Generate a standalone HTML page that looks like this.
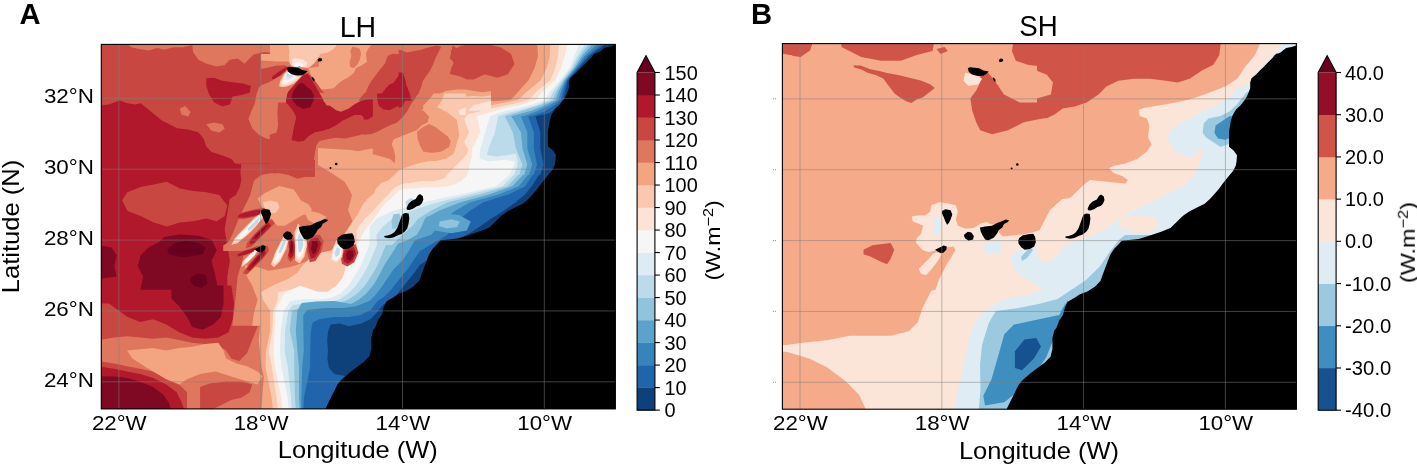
<!DOCTYPE html><html><head><meta charset="utf-8"><style>html,body{margin:0;padding:0;background:#fff;overflow:hidden}svg{display:block}</style></head><body>
<svg width="1417" height="464" viewBox="0 0 1417 464">
<rect width="1417" height="464" fill="#fff"/>
<defs>
<clipPath id="cA"><rect x="101.3" y="44.4" width="514.0" height="364.5"/></clipPath>
<clipPath id="cB"><rect x="782.4" y="43.6" width="514.0" height="365.6"/></clipPath>
<g id="land" fill="#000"><path d="M615.3,45.0 L614.2,45.3 L610.4,46.4 L605.1,47.5 L602.1,49.8 L599.9,51.7 L597.6,52.8 L595.3,53.2 L593.1,55.1 L591.6,57.3 L589.3,59.6 L586.3,62.6 L582.5,66.4 L578.8,70.1 L575.0,74.0 L570.4,77.7 L569.1,81.9 L569.1,87.8 L566.8,93.7 L564.4,98.5 L559.7,104.4 L554.9,109.1 L551.4,115.1 L549.6,121.0 L549.0,125.0 L547.9,131.3 L547.9,146.3 L552.5,150.0 L555.9,154.7 L555.4,161.3 L554.7,165.0 L552.1,170.2 L546.9,176.6 L541.7,183.1 L537.9,188.3 L534.0,192.8 L528.8,198.6 L523.6,203.2 L515.9,207.0 L508.1,210.9 L501.6,215.5 L496.5,220.6 L489.4,227.5 L480.0,231.3 L468.8,235.0 L457.5,238.4 L440.6,240.3 L437.8,243.5 L433.1,248.2 L429.4,253.8 L426.9,260.0 L424.1,267.5 L421.3,275.0 L419.4,280.6 L413.8,286.3 L406.3,291.0 L398.8,293.8 L393.2,297.5 L386.6,301.3 L383.8,306.9 L381.9,314.4 L378.1,320.0 L375.3,327.5 L373.2,330.0 L371.3,337.5 L371.3,348.8 L369.4,356.3 L363.8,361.9 L356.3,367.5 L348.8,373.2 L341.3,379.7 L337.5,384.4 L333.8,391.9 L330.0,399.4 L326.3,406.9 L325.3,410.0 L620.0,412.0 L620.0,40.0Z"/><path d="M286.7,67.8 L288.8,66.7 L293.7,67.2 L298.0,67.8 L302.3,69.9 L307.7,71.0 L305.5,73.2 L302.3,75.3 L296.9,75.6 L291.5,74.2 L287.8,71.5Z"/><path d="M317.6,59.5 L319.5,58.1 L321.8,58.6 L322.2,60.2 L320.5,61.6 L318.2,61.6Z"/><path d="M311.6,77.2 L312.8,76.9 L314.4,79.2 L314.6,81.0 L313.5,81.2 L312.2,79.5Z"/><path d="M260.9,210.5 L264.3,208.8 L269.5,209.7 L271.2,214.0 L269.5,219.1 L267.8,222.6 L266.0,224.3 L264.3,220.9 L262.6,216.6 L260.9,213.1Z"/><path d="M254.0,249.3 L259.1,246.7 L262.6,245.0 L265.7,245.9 L265.2,249.3 L262.6,251.9 L260.0,252.8 L256.6,251.0Z"/><path d="M283.6,233.8 L286.7,231.2 L290.2,232.1 L292.8,235.5 L291.9,239.0 L287.6,240.2 L284.1,238.1 L282.9,235.5Z"/><path d="M298.8,226.9 L304.0,226.0 L310.9,225.2 L316.0,222.6 L320.3,220.9 L324.7,219.1 L328.1,220.0 L326.4,221.7 L322.9,223.4 L321.2,226.9 L317.8,229.5 L316.0,232.9 L312.6,237.2 L307.4,239.8 L304.0,239.0 L301.4,234.7 L299.7,231.2Z"/><path d="M338.4,237.2 L341.9,234.7 L347.1,233.8 L352.2,233.3 L354.0,236.4 L354.8,241.6 L353.1,245.9 L348.8,248.4 L343.6,249.3 L340.2,246.7 L337.6,243.3 L337.1,239.8Z"/><path d="M406.5,208.0 L408.6,203.8 L411.5,201.0 L415.7,198.9 L417.8,195.4 L419.9,194.0 L422.7,196.1 L423.4,199.6 L422.0,203.1 L419.9,205.2 L416.4,206.6 L412.9,208.7 L409.3,210.1 L407.0,209.7Z"/><path d="M402.3,214.3 L405.1,212.9 L408.6,213.6 L409.3,217.9 L408.6,223.5 L407.2,228.4 L405.1,231.2 L401.6,234.0 L397.4,235.4 L393.2,237.5 L389.0,238.2 L384.8,237.5 L384.1,236.1 L387.6,235.4 L391.8,234.0 L394.6,231.9 L397.4,227.7 L399.5,222.1 L400.9,217.9Z"/><circle cx="336.2" cy="164" r="1.3"/><circle cx="330.5" cy="168" r="1.0"/></g>
<g id="grid" stroke="#808080" stroke-opacity="0.5" stroke-width="1"><line x1="118.9" y1="40" x2="118.9" y2="415"/><line x1="260.7" y1="40" x2="260.7" y2="415"/><line x1="402.5" y1="40" x2="402.5" y2="415"/><line x1="544.3" y1="40" x2="544.3" y2="415"/><line x1="95" y1="98.35" x2="620" y2="98.35"/><line x1="95" y1="169.2" x2="620" y2="169.2"/><line x1="95" y1="240.1" x2="620" y2="240.1"/><line x1="95" y1="310.95" x2="620" y2="310.95"/><line x1="95" y1="381.8" x2="620" y2="381.8"/></g>
</defs>
<g clip-path="url(#cA)">
<rect x="99.3" y="42.4" width="518.0" height="368.5" fill="#c94741"/>
<g transform="translate(0,0)">
<path d="M270.0,42.0 L445.0,42.0 L445.0,182.0 L315.0,182.0 L315.0,160.0 L270.0,160.0Z" fill="#df765e"/>
<path d="M98.4,163.4 L274.7,163.4 L274.7,289.7 L98.4,289.7Z" fill="#b1182b"/>
<path d="M122.1,200.2 L127.3,192.3 L140.5,187.1 L153.6,184.4 L166.8,181.8 L179.9,188.4 L193.1,191.0 L206.3,192.3 L219.4,194.9 L227.3,205.5 L224.7,216.0 L216.8,221.3 L206.3,218.6 L193.1,221.3 L179.9,222.6 L166.8,226.5 L153.6,222.6 L140.5,216.0 L127.3,210.7Z" fill="#c94741"/>
<path d="M237.8,163.4 L240.5,176.5 L235.2,187.1 L229.9,197.6 L227.3,213.4 L224.7,229.2 L227.3,244.9 L229.9,260.7 L227.3,276.5 L227.3,289.7 L274.7,289.7 L274.7,163.4Z" fill="#c94741"/>
<path d="M223.2,164.2 L241.3,164.2 L240.4,173.2 L241.3,180.5 L239.5,187.7 L235.9,195.0 L230.4,198.6 L223.2,200.4Z" fill="#b1182b"/>
<path d="M440.0,40.0 L560.0,40.0 L560.0,125.0 L440.0,125.0Z" fill="#df765e"/>
<path d="M335.0,170.0 L430.0,170.0 L430.0,265.0 L335.0,265.0Z" fill="#df765e"/>
<path d="M127.3,41.4 L127.3,44.0 L131.3,47.2 L137.8,48.7 L148.4,50.6 L157.6,47.9 L164.2,49.8 L173.4,47.2 L182.6,47.2 L191.8,45.3 L195.7,41.4Z" fill="#df765e"/>
<path d="M191.8,41.4 L193.1,51.9 L198.4,59.8 L206.3,63.7 L216.8,66.4 L224.7,65.1 L229.9,59.8 L237.8,58.5 L244.4,63.7 L248.4,59.8 L253.6,54.5 L264.2,51.9 L274.7,53.2 L274.7,41.4Z" fill="#df765e"/>
<path d="M274.7,80.8 L264.2,83.5 L258.9,87.4 L256.3,95.3 L254.9,103.2 L251.0,111.9 L248.4,119.0 L252.3,128.2 L258.9,134.8 L266.8,138.7 L274.7,140.1Z" fill="#df765e"/>
<path d="M179.9,108.5 L185.2,106.1 L190.5,111.9 L188.4,116.4 L181.3,114.5Z" fill="#df765e"/>
<path d="M206.3,124.3 L214.2,122.4 L222.6,124.3 L224.7,128.7 L219.4,132.4 L211.5,130.8Z" fill="#df765e"/>
<path d="M346.8,171.4 L333.6,173.2 L315.5,176.9 L304.6,176.9 L297.4,178.7 L288.3,175.0 L279.3,173.2 L270.2,173.2 L261.2,175.0 L254.0,180.5 L252.1,187.7 L250.3,195.0 L246.7,202.2 L243.1,209.4 L239.5,216.7 L235.9,225.7 L232.2,234.8 L228.6,242.0 L223.2,245.6 L223.2,251.1 L346.8,251.1Z" fill="#df765e"/>
<path d="M243.1,238.2 L243.1,258.1 L237.7,276.2 L235.9,294.3 L234.0,312.4 L232.2,325.8 L346.8,325.8 L346.8,238.2Z" fill="#df765e"/>
<path d="M98.4,340.1 L114.0,337.5 L127.1,336.2 L140.1,337.5 L153.1,338.8 L166.2,337.5 L179.2,340.1 L192.2,342.7 L205.3,344.0 L218.3,345.4 L226.1,350.6 L231.3,358.4 L239.2,361.0 L247.0,353.2 L252.2,340.1 L257.4,327.1 L262.6,314.1 L267.8,303.6 L275.7,301.0 L275.7,410.5 L187.0,410.5 L187.0,392.3 L179.2,384.5 L166.2,376.6 L153.1,371.4 L140.1,368.8 L127.1,366.2 L114.0,363.6 L98.4,361.0Z" fill="#df765e"/>
<path d="M236.6,285.4 L257.4,285.4 L257.4,298.4 L247.0,298.4 L239.2,295.8Z" fill="#df765e"/>
<path d="M318.8,42.8 L371.9,42.8 L371.9,44.0 L368.3,48.8 L365.8,53.7 L367.0,62.1 L361.0,65.7 L356.2,68.1 L353.8,73.0 L347.7,77.8 L342.9,80.2 L338.1,83.8 L334.5,87.4 L329.7,89.8 L324.8,91.0 L318.8,92.3Z" fill="#f3a481"/>
<path d="M421.3,110.8 L428.4,103.7 L437.0,95.2 L445.5,90.9 L456.9,89.5 L465.4,89.5 L473.9,90.9 L482.5,92.3 L491.0,90.9 L491.0,110.8Z" fill="#f3a481"/>
<path d="M351.5,166.9 L353.0,156.2 L357.6,151.6 L363.7,150.0 L372.9,148.5 L372.9,166.9Z" fill="#f3a481"/>
<path d="M433.8,93.5 L429.2,99.6 L423.1,105.7 L424.6,111.8 L429.2,116.4 L427.7,122.5 L421.6,125.6 L417.0,130.2 L409.3,133.2 L401.7,136.3 L394.1,139.3 L391.8,143.9 L394.1,150.0 L395.6,157.7 L394.1,166.9 L465.9,166.9 L465.9,93.5Z" fill="#f3a481"/>
<path d="M270.0,42.0 L300.0,42.0 L300.0,56.0 L270.0,56.0Z" fill="#f3a481"/>
<path d="M257.6,198.6 L264.8,193.1 L272.1,189.5 L279.3,185.9 L286.5,187.7 L293.8,189.5 L297.4,195.0 L301.0,200.4 L308.3,204.0 L311.9,209.4 L310.1,213.1 L302.8,214.9 L293.8,220.3 L284.7,225.7 L277.5,225.7 L272.1,220.3 L266.6,213.1 L261.2,205.8Z" fill="#f3a481"/>
<path d="M304.6,213.1 L311.9,211.2 L319.1,213.1 L326.4,216.7 L322.7,222.1 L315.5,223.9 L308.3,220.3Z" fill="#f3a481"/>
<path d="M244.9,265.3 L257.6,267.1 L268.4,270.8 L279.3,269.0 L290.2,267.1 L301.0,263.5 L310.1,259.9 L319.1,254.5 L333.6,250.9 L346.8,247.2 L346.8,325.8 L252.1,325.8 L254.0,312.4 L257.6,299.7 L252.1,285.2 L246.7,276.2Z" fill="#f3a481"/>
<path d="M127.1,350.6 L140.1,349.3 L153.1,348.0 L166.2,350.6 L179.2,348.0 L192.2,346.7 L205.3,344.0 L218.3,342.7 L223.5,350.6 L226.1,358.4 L236.6,363.6 L247.0,366.2 L257.4,371.4 L262.6,376.6 L257.4,384.5 L231.3,376.6 L215.7,371.4 L200.1,374.0 L187.0,379.2 L179.2,384.5 L166.2,379.2 L153.1,371.4 L140.1,363.6 L132.3,358.4Z" fill="#f3a481"/>
<path d="M258.7,285.4 L278.3,285.4 L278.3,410.5 L261.3,410.5 L262.6,392.3 L263.9,376.6 L261.3,366.2 L258.7,340.1 L261.3,314.1 L258.7,298.4Z" fill="#f3a481"/>
<path d="M537.1,38.0 L537.1,44.0 L538.0,56.1 L534.6,68.1 L528.6,80.2 L511.1,99.6 L494.3,101.2 L477.4,99.6 L460.6,97.9 L443.8,94.5 L433.8,96.0 L429.2,99.6 L423.1,105.7 L424.6,111.8 L429.2,116.4 L427.7,122.5 L421.6,125.6 L417.0,130.2 L409.3,133.2 L401.7,136.3 L394.1,139.3 L391.8,143.9 L394.1,150.0 L395.6,157.7 L394.1,166.9 L394.0,176.0 L720.0,176.0 L720.0,38.0Z" fill="#f3a481"/>
<path d="M318.0,148.0 L351.0,150.0 L369.0,153.0 L390.0,159.0 L400.0,168.0 L405.0,174.0 L420.0,177.0 L480.0,150.0 L480.0,260.0 L369.0,260.0 L360.0,240.0 L354.0,225.0 L348.0,210.0 L352.0,195.0 L345.0,182.0 L330.0,172.0 L318.0,165.0Z" fill="#f3a481"/>
<path d="M200.1,387.1 L210.5,383.2 L226.1,381.8 L241.8,381.8 L252.2,384.5 L249.6,392.3 L241.8,397.5 L231.3,400.1 L220.9,405.3 L210.5,410.5 L200.1,410.5Z" fill="#c94741"/>
<path d="M352.6,46.4 L356.2,47.6 L359.8,48.8 L361.0,53.7 L359.8,59.7 L357.4,64.5 L353.8,68.1 L350.2,66.9 L349.6,62.1 L351.4,56.1 L350.2,51.2Z" fill="#df765e"/>
<path d="M318.8,42.8 L335.7,42.8 L335.7,46.4 L332.1,50.0 L327.2,52.4 L318.8,53.7Z" fill="#fac8af"/>
<path d="M442.7,110.8 L448.3,103.7 L456.9,98.0 L465.4,96.6 L473.9,95.9 L482.5,96.6 L491.0,95.2 L491.0,110.8Z" fill="#fac8af"/>
<path d="M444.5,93.5 L441.5,101.1 L436.9,107.2 L444.5,110.3 L450.6,114.9 L456.7,119.5 L458.3,128.6 L459.8,137.8 L456.7,145.5 L453.7,153.1 L450.6,159.2 L447.6,166.9 L465.9,166.9 L465.9,93.5Z" fill="#fac8af"/>
<path d="M288.0,42.0 L336.0,42.0 L336.0,46.0 L332.0,50.0 L327.0,52.4 L320.0,54.0 L300.0,56.0 L290.0,56.0Z" fill="#fac8af"/>
<path d="M263.0,202.2 L270.2,200.4 L277.5,202.2 L279.3,207.6 L275.7,213.1 L270.2,213.1 L264.8,209.4Z" fill="#fac8af"/>
<path d="M550.3,44.0 L549.7,56.1 L546.7,68.1 L540.7,80.2 L526.2,92.3 L517.8,100.0 L517.8,100.0 L504.7,102.4 L488.5,105.7 L472.3,108.1 L461.0,111.3 L457.8,116.2 L460.2,132.3 L456.2,145.3 L454.5,153.4 L445.9,158.6 L437.2,160.8 L428.6,161.2 L420.0,163.0 L410.0,166.0 L399.3,170.0 L393.5,175.8 L387.7,180.7 L381.9,182.6 L376.0,188.4 L374.1,193.3 L367.3,199.1 L362.5,204.9 L359.5,210.7 L357.6,215.0 L352.6,221.6 L349.0,227.1 L345.3,232.5 L340.0,245.0 L333.6,250.0 L319.1,253.0 L310.1,258.1 L302.8,265.3 L297.0,273.0 L288.0,279.0 L276.0,284.0 L266.0,289.0 L261.1,292.6 L263.0,300.0 L270.2,310.7 L270.2,330.3 L266.0,351.0 L265.5,366.9 L271.9,398.8 L273.0,412.0 L273.0,418.0 L720.0,418.0 L720.0,38.0 L550.3,38.0Z" fill="#fac8af"/>
<path d="M417.0,131.7 L423.1,127.1 L429.2,124.1 L435.3,127.1 L441.5,131.7 L447.6,136.3 L450.6,140.9 L449.1,147.0 L441.5,151.6 L432.3,153.1 L423.1,151.6 L420.0,145.5 L417.8,139.3Z" fill="#df765e"/>
<path d="M468.2,110.8 L473.9,105.1 L479.6,103.7 L485.3,102.3 L491.0,100.9 L491.0,110.8Z" fill="#fbe4d6"/>
<path d="M458.3,110.3 L465.9,107.2 L465.9,114.9 L459.8,114.9Z" fill="#fbe4d6"/>
<path d="M558.8,44.0 L558.2,56.1 L555.2,68.1 L550.3,80.2 L535.8,92.3 L528.6,100.0 L528.6,100.0 L512.8,104.0 L496.6,107.3 L480.4,111.3 L467.5,114.6 L464.3,119.4 L469.1,132.3 L464.3,142.0 L468.3,150.0 L466.6,154.3 L463.1,158.6 L458.8,162.9 L454.5,167.2 L449.3,172.4 L444.1,178.4 L433.9,181.2 L423.1,181.0 L412.3,182.5 L402.0,184.0 L397.4,186.0 L392.5,189.4 L388.6,194.2 L383.8,199.1 L378.0,204.9 L373.1,210.7 L369.2,215.0 L365.2,218.0 L359.8,225.2 L356.2,230.7 L357.0,240.0 L356.0,250.0 L352.0,258.0 L345.3,263.2 L343.8,281.3 L337.7,290.3 L327.2,294.1 L318.1,293.4 L309.1,290.3 L300.0,287.3 L277.7,292.6 L277.7,300.2 L273.4,310.7 L272.4,330.3 L268.7,351.0 L271.9,366.9 L276.7,398.8 L278.0,412.0 L278.0,418.0 L720.0,418.0 L720.0,38.0 L558.8,38.0Z" fill="#fbe4d6"/>
<path d="M567.2,44.0 L564.8,56.1 L561.2,68.1 L555.2,80.2 L541.9,92.3 L535.8,100.0 L535.9,100.0 L520.9,104.9 L504.7,108.1 L488.5,112.9 L477.2,116.2 L480.4,132.3 L472.3,148.5 L471.7,156.9 L470.0,162.9 L469.1,169.8 L466.6,175.9 L461.4,181.0 L454.5,184.5 L447.0,186.5 L434.0,187.5 L423.1,187.5 L412.3,188.5 L402.2,189.0 L397.4,192.3 L391.6,198.1 L385.7,203.0 L380.9,208.8 L377.0,215.0 L376.1,216.2 L368.9,225.2 L363.4,232.5 L360.0,240.0 L357.4,245.1 L352.8,254.1 L346.8,266.2 L342.3,278.3 L336.2,285.8 L327.2,291.8 L318.1,291.8 L309.1,288.8 L300.0,285.8 L285.2,292.6 L280.7,300.2 L275.7,310.7 L274.7,330.3 L273.5,351.0 L275.1,366.9 L281.5,398.8 L283.0,412.0 L283.0,418.0 L720.0,418.0 L720.0,38.0 L567.2,38.0Z" fill="#f7f6f6"/>
<path d="M579.3,44.0 L574.5,56.1 L569.6,68.1 L560.0,80.2 L549.7,92.3 L544.3,100.0 L544.3,100.0 L530.6,104.9 L514.4,108.9 L498.2,112.9 L490.1,116.2 L485.3,132.3 L480.4,148.5 L479.6,158.2 L488.5,161.4 L504.7,159.8 L514.4,161.4 L514.4,164.7 L509.5,175.0 L509.1,175.0 L496.1,186.2 L460.6,194.3 L423.4,202.3 L394.3,210.4 L376.5,218.5 L370.0,226.6 L369.4,245.1 L364.9,255.6 L360.4,266.2 L354.3,276.8 L348.3,285.8 L340.8,293.4 L330.2,297.9 L318.1,299.4 L305.0,299.0 L295.0,300.0 L289.8,302.0 L283.7,310.7 L280.7,330.3 L279.9,351.0 L281.5,366.9 L287.8,398.8 L289.0,412.0 L289.0,418.0 L720.0,418.0 L720.0,38.0 L579.3,38.0Z" fill="#ddebf2"/>
<path d="M585.3,44.0 L577.5,56.1 L571.4,68.1 L561.8,80.2 L552.7,92.3 L549.1,100.0 L549.2,100.0 L537.0,104.9 L520.9,109.7 L507.9,112.9 L498.2,116.2 L495.0,132.3 L488.5,148.5 L486.9,155.0 L496.6,156.6 L507.9,155.0 L516.0,153.4 L517.6,161.4 L517.6,164.7 L514.4,175.0 L513.9,175.0 L502.6,186.2 L470.3,194.3 L437.9,202.3 L412.0,210.4 L392.6,218.5 L382.9,226.6 L376.5,234.7 L377.0,245.1 L372.5,255.6 L367.9,266.2 L361.9,276.8 L355.8,285.8 L348.3,293.4 L339.2,299.4 L328.7,302.4 L315.1,303.9 L300.0,303.9 L293.0,305.0 L288.3,310.7 L285.2,330.3 L284.7,351.0 L287.8,366.9 L291.0,398.8 L292.0,412.0 L292.0,418.0 L720.0,418.0 L720.0,38.0 L585.3,38.0Z" fill="#bbdaea"/>
<path d="M588.9,44.0 L579.9,56.1 L573.0,68.1 L563.2,80.2 L555.8,92.3 L552.7,100.0 L552.7,100.0 L540.3,104.9 L525.7,109.7 L512.8,113.7 L504.7,116.2 L512.8,132.3 L516.0,148.5 L522.5,164.7 L519.2,175.0 L518.0,175.0 L507.5,186.2 L480.0,194.3 L447.6,202.3 L431.4,210.4 L418.5,218.5 L412.0,226.6 L402.3,234.7 L392.0,245.0 L386.0,245.1 L381.5,255.6 L377.0,266.2 L370.9,276.8 L364.9,285.8 L357.4,293.4 L348.3,299.4 L337.7,303.9 L325.7,306.0 L300.0,308.0 L292.0,310.7 L289.8,330.3 L294.2,351.0 L294.2,366.9 L295.0,398.8 L296.0,412.0 L296.0,418.0 L720.0,418.0 L720.0,38.0 L588.9,38.0Z" fill="#90c4dd"/>
<path d="M592.6,44.0 L582.3,56.1 L574.5,68.1 L564.6,80.2 L558.2,92.3 L555.8,100.0 L555.8,100.0 L545.1,104.9 L532.2,110.5 L517.6,114.6 L511.2,116.2 L520.9,132.3 L522.5,148.5 L527.3,164.7 L524.1,175.0 L522.8,175.0 L512.3,186.2 L489.7,194.3 L460.6,202.3 L439.5,210.4 L425.0,218.5 L421.7,226.6 L416.9,234.7 L408.0,240.0 L398.1,243.5 L390.6,255.6 L384.5,264.7 L380.0,273.7 L374.0,284.3 L366.4,293.4 L358.9,299.4 L351.3,303.9 L334.3,301.0 L316.2,301.5 L301.7,303.0 L297.3,310.7 L295.8,330.3 L297.4,351.0 L299.0,366.9 L299.0,398.8 L300.0,412.0 L300.0,418.0 L720.0,418.0 L720.0,38.0 L592.6,38.0Z" fill="#5ca3cb"/>
<path d="M597.4,44.0 L584.7,56.1 L575.9,68.1 L565.8,80.2 L560.6,92.3 L558.5,100.0 L558.5,100.0 L550.0,104.9 L537.0,111.3 L525.7,115.4 L520.9,116.2 L527.3,132.3 L527.3,148.5 L532.2,164.7 L528.9,175.0 L527.7,175.0 L518.8,186.2 L499.4,194.3 L470.3,202.3 L455.7,210.4 L444.4,218.5 L437.9,226.6 L431.4,234.7 L414.7,240.5 L408.7,251.1 L402.6,260.2 L393.6,269.2 L387.5,278.3 L381.5,287.3 L375.5,294.9 L369.4,300.9 L356.0,306.3 L343.3,308.1 L325.2,308.1 L307.1,309.9 L303.3,315.0 L303.3,330.3 L303.8,351.0 L302.2,366.9 L301.4,398.8 L301.5,412.0 L301.5,418.0 L720.0,418.0 L720.0,38.0 L597.4,38.0Z" fill="#3783bb"/>
<path d="M602.2,44.0 L587.1,56.1 L577.4,68.1 L566.9,80.2 L562.6,92.3 L560.9,100.0 L561.0,100.0 L554.8,104.9 L543.5,112.1 L532.2,115.8 L528.1,116.2 L533.8,132.3 L533.8,148.5 L537.0,164.7 L533.8,175.0 L532.5,175.0 L525.2,186.2 L509.1,194.3 L483.2,202.3 L470.3,210.4 L460.6,218.5 L454.1,226.6 L447.6,234.7 L420.0,251.1 L414.7,258.6 L408.7,267.7 L402.6,275.2 L396.6,282.8 L390.6,290.3 L384.5,296.4 L377.7,300.9 L370.5,309.9 L359.6,315.3 L348.8,317.1 L334.3,317.1 L319.8,319.0 L312.6,322.6 L310.8,331.6 L310.2,351.0 L310.2,366.9 L303.8,398.8 L303.5,412.0 L303.5,418.0 L720.0,418.0 L720.0,38.0 L602.2,38.0Z" fill="#2065ab"/>
<path d="M605.8,44.0 L589.5,56.1 L578.7,68.1 L567.9,80.2 L565.0,92.3 L563.0,100.0 L563.1,100.0 L558.9,104.9 L550.0,112.9 L538.6,115.8 L535.4,116.2 L540.3,132.3 L540.3,148.5 L543.5,164.7 L540.3,175.0 L539.0,175.0 L531.7,186.2 L525.2,194.3 L515.5,202.3 L504.2,210.4 L491.3,218.5 L480.0,226.6 L467.0,234.7 L420.0,264.7 L414.7,272.2 L408.7,279.8 L402.6,287.3 L396.6,294.9 L390.6,300.9 L383.2,304.5 L377.7,311.7 L370.5,319.0 L361.4,323.5 L348.8,326.2 L339.7,323.5 L330.7,324.4 L328.0,331.6 L327.1,340.7 L328.0,349.7 L327.4,358.8 L328.9,367.8 L334.3,374.0 L345.0,376.0 L352.0,371.0 L343.0,380.0 L339.5,385.0 L335.5,392.0 L331.5,400.0 L328.0,412.0 L328.0,418.0 L720.0,418.0 L720.0,38.0 L605.8,38.0Z" fill="#0e4179"/>
<path d="M426.1,217.0 L439.7,213.1 L459.1,215.0 L470.7,221.6 L466.8,230.5 L451.3,233.2 L434.0,230.5 L424.2,224.8Z" fill="#5ca3cb"/>
<path d="M439.7,221.6 L451.3,219.3 L459.8,221.6 L457.1,227.0 L446.7,228.6 L438.9,225.9Z" fill="#90c4dd"/>
<path d="M387.6,56.1 L392.4,53.7 L398.4,54.3 L404.4,54.9 L411.7,56.1 L411.7,100.7 L358.6,100.7 L361.0,97.1 L365.8,92.3 L368.3,86.2 L371.9,80.2 L375.5,75.4 L380.3,69.3 L385.1,63.3Z" fill="#c94741"/>
<path d="M398.6,49.7 L400.0,49.7 L407.1,52.5 L414.2,51.1 L421.3,49.7 L425.6,48.3 L431.3,46.8 L437.0,45.4 L441.2,46.8 L438.4,52.5 L435.5,58.2 L432.7,65.3 L429.9,71.0 L425.6,76.7 L422.7,81.0 L421.3,86.7 L418.5,93.8 L414.2,98.0 L408.5,103.7 L402.8,108.0 L398.6,109.4Z" fill="#c94741"/>
<path d="M452.6,45.4 L456.9,48.3 L461.1,45.4 L468.2,46.8 L473.9,48.3 L479.6,46.8 L485.3,48.3 L491.0,48.3 L491.0,72.4 L485.3,73.9 L479.6,76.7 L473.9,79.5 L466.8,79.5 L461.1,76.7 L455.5,75.3 L449.8,73.9 L451.2,68.2 L454.0,62.5 L449.8,58.2 L451.2,52.5Z" fill="#c94741"/>
<path d="M278.1,102.6 L285.8,102.6 L293.4,108.8 L296.5,114.9 L294.9,122.5 L293.4,128.6 L291.9,139.3 L296.5,141.6 L304.1,140.9 L308.7,136.3 L314.8,132.5 L322.5,130.9 L330.1,128.6 L336.2,125.6 L342.3,121.0 L348.5,117.9 L354.6,114.9 L360.7,114.9 L366.8,119.5 L372.9,116.4 L372.9,133.2 L363.7,134.0 L354.6,136.3 L345.4,138.6 L336.2,137.8 L327.0,139.3 L319.4,140.9 L316.3,145.5 L314.8,153.1 L313.3,166.9 L269.7,166.9 L269.7,134.8 L276.6,132.5 L278.1,125.6 L277.4,113.3Z" fill="#c94741"/>
<path d="M417.0,93.5 L415.5,98.1 L410.9,104.2 L407.8,110.3 L403.2,116.4 L397.1,122.5 L389.5,125.6 L383.3,128.6 L377.2,131.7 L371.1,134.0 L363.5,134.8 L363.5,93.5Z" fill="#c94741"/>
<path d="M450.5,50.7 L467.3,44.0 L487.5,44.0 L501.0,47.4 L511.1,54.1 L514.5,64.2 L507.7,74.3 L497.6,77.7 L484.2,74.3 L474.1,77.7 L460.6,74.3 L453.9,64.2Z" fill="#c94741"/>
<path d="M98.4,105.8 L108.9,104.5 L119.4,100.6 L127.3,103.2 L135.2,104.5 L140.5,103.2 L147.1,108.5 L153.6,113.7 L161.5,120.3 L169.4,124.3 L177.3,128.2 L187.8,129.5 L198.4,132.2 L203.6,138.7 L206.3,146.6 L211.5,151.9 L219.4,154.5 L227.3,157.2 L232.6,159.8 L237.8,169.0 L98.4,169.0Z" fill="#b1182b"/>
<path d="M206.3,78.2 L214.2,77.7 L222.1,80.8 L232.6,82.2 L243.1,83.5 L251.0,86.1 L249.7,92.7 L240.5,95.3 L232.6,96.6 L229.9,104.5 L222.1,106.6 L214.2,102.4 L208.9,94.0 L206.3,86.1Z" fill="#b1182b"/>
<path d="M377.9,100.7 L382.7,92.3 L388.8,85.0 L393.6,82.6 L397.2,77.8 L399.6,74.2 L402.0,75.4 L404.4,80.2 L406.9,86.2 L409.3,92.3 L411.7,100.7Z" fill="#b1182b"/>
<path d="M398.6,72.4 L402.8,72.4 L405.7,81.0 L406.4,89.5 L405.7,98.0 L402.8,106.6 L398.6,108.0Z" fill="#b1182b"/>
<path d="M287.3,93.5 L285.8,102.6 L293.4,108.8 L296.5,114.9 L294.9,122.5 L293.4,128.6 L291.9,139.3 L296.5,141.6 L304.1,140.9 L308.7,136.3 L314.8,132.5 L322.5,130.9 L330.1,128.6 L336.2,125.6 L342.3,121.0 L348.5,117.9 L354.6,114.9 L360.7,114.9 L366.8,119.5 L372.9,116.4 L372.9,99.6 L366.8,99.6 L360.7,101.1 L354.6,104.2 L348.5,108.8 L340.8,111.8 L336.2,110.3 L330.1,105.7 L322.5,101.1 L317.9,93.5Z" fill="#b1182b"/>
<path d="M377.2,93.5 L404.8,93.5 L406.3,99.6 L401.7,104.2 L395.6,107.2 L389.5,110.3 L383.3,109.5 L378.8,105.7 L377.2,99.6Z" fill="#b1182b"/>
<path d="M363.5,104.2 L368.1,105.7 L372.6,110.3 L371.9,116.4 L368.1,119.5 L363.5,119.5Z" fill="#b1182b"/>
<path d="M223.2,294.3 L232.2,296.1 L232.2,312.4 L223.2,314.2Z" fill="#b1182b"/>
<path d="M98.4,285.4 L231.3,285.4 L234.0,303.6 L232.6,319.3 L228.7,332.3 L218.3,337.5 L205.3,338.8 L192.2,337.5 L179.2,332.3 L166.2,324.5 L153.1,319.3 L140.1,321.9 L127.1,316.7 L116.6,308.9 L108.8,303.6 L98.4,303.6Z" fill="#b1182b"/>
<path d="M98.4,366.2 L114.0,368.8 L127.1,371.4 L140.1,374.0 L153.1,377.9 L166.2,384.5 L176.6,392.3 L181.8,402.7 L184.4,410.5 L98.4,410.5Z" fill="#b1182b"/>
<path d="M290.3,93.5 L291.9,101.1 L298.0,105.7 L304.1,108.0 L310.2,108.8 L314.8,104.2 L314.8,93.5Z" fill="#7f0823"/>
<path d="M164.2,237.1 L179.9,234.4 L198.4,235.7 L211.5,239.7 L216.8,250.2 L211.5,260.7 L214.2,271.3 L216.8,281.8 L216.8,289.7 L140.5,289.7 L143.1,276.5 L137.8,266.0 L140.5,255.5 L148.4,247.6 L158.9,242.3Z" fill="#7f0823"/>
<path d="M98.4,244.9 L111.5,247.6 L116.8,255.5 L114.2,266.0 L116.8,276.5 L98.4,279.2Z" fill="#7f0823"/>
<path d="M171.4,285.4 L223.5,285.4 L223.5,303.6 L220.9,316.7 L213.1,324.5 L202.7,329.7 L192.2,327.1 L187.0,316.7 L179.2,306.2 L171.4,298.4Z" fill="#7f0823"/>
<path d="M98.4,376.6 L114.0,376.6 L127.1,377.9 L140.1,381.8 L153.1,387.1 L163.6,394.9 L168.8,402.7 L171.4,410.5 L98.4,410.5Z" fill="#7f0823"/>
<path d="M167.2,249.2 L175.2,242.7 L186.5,241.1 L197.8,242.7 L205.9,247.6 L202.7,254.1 L194.6,255.7 L183.3,257.3 L175.2,255.7 L168.8,254.1Z" fill="#67001f"/>
<path d="M191.4,276.7 L197.8,273.5 L205.9,275.1 L207.5,283.2 L202.7,288.0 L194.6,286.4 L189.8,281.5Z" fill="#67001f"/>
<path d="M260.9,53.9 L288.9,53.9 L288.9,61.5 L260.9,61.5Z" fill="#f3a481"/>
<path d="M308.3,67.9 L318.0,66.8 L333.1,67.9 L333.1,100.2 L326.6,98.1 L321.2,89.5 L315.8,81.9 L311.5,76.5Z" fill="#f3a481"/>
<path d="M260.9,60.4 L270.6,60.9 L278.2,62.5 L286.8,65.8 L283.5,72.2 L278.2,79.8 L272.8,86.2 L271.7,92.7 L272.8,98.1 L270.6,105.6 L260.9,105.6Z" fill="#df765e"/>
<path d="M313.7,87.3 L322.3,89.5 L333.1,88.4 L333.1,105.6 L326.6,105.6 L322.3,98.1Z" fill="#df765e"/>
<path d="M260.9,69.0 L268.5,67.4 L276.0,65.8 L283.5,65.2 L287.3,66.3 L287.3,68.5 L283.5,72.2 L278.2,76.5 L272.8,80.3 L267.4,83.0 L260.9,85.2Z" fill="#c94741"/>
<path d="M272.2,76.5 L278.2,72.2 L283.5,68.5 L287.3,67.1 L287.8,68.5 L285.2,71.2 L280.3,75.5 L274.9,78.7 L272.2,79.2Z" fill="#b1182b"/>
<path d="M288.9,53.9 L288.9,61.5 L291.1,65.8 L294.3,66.8 L308.3,67.9 L312.6,64.7 L315.8,61.5 L318.0,58.2 L320.2,53.9Z" fill="#fac8af"/>
<path d="M292.2,59.3 L294.3,58.2 L302.9,59.3 L307.2,62.5 L306.2,66.8 L300.8,66.3 L294.3,66.8 L292.2,64.7Z" fill="#fbe4d6"/>
<path d="M294.3,63.6 L297.5,62.0 L301.8,63.1 L304.0,65.8 L300.8,66.8 L294.3,66.8Z" fill="#f7f6f6"/>
<path d="M287.8,70.1 L284.6,73.3 L281.9,77.6 L279.8,81.9 L279.2,86.2 L282.5,87.3 L287.8,86.2 L293.2,84.1 L297.5,80.8 L300.8,77.6 L302.9,75.5 L297.5,74.9 L293.2,73.8Z" fill="#fac8af"/>
<path d="M287.6,70.9 L284.8,74.6 L282.7,78.7 L281.2,82.8 L281.9,85.7 L286.8,84.9 L292.2,82.8 L296.5,79.8 L299.2,77.1 L294.3,75.5Z" fill="#fbe4d6"/>
<path d="M287.3,71.7 L285.2,75.5 L283.5,79.6 L283.0,83.2 L287.3,82.8 L292.2,80.6 L295.9,77.8 L294.3,76.0Z" fill="#f7f6f6"/>
<path d="M287.1,72.8 L285.7,76.0 L284.8,79.8 L288.4,80.3 L292.7,78.2 L294.1,76.5Z" fill="#ddebf2"/>
<path d="M287.3,73.8 L286.6,77.1 L289.8,77.8 L292.7,76.5Z" fill="#bbdaea"/>
<path d="M304.5,73.3 L300.8,77.6 L296.5,81.9 L292.2,87.3 L288.9,92.7 L324.5,92.7 L321.2,89.5 L315.8,81.9 L311.5,76.5 L308.3,73.3Z" fill="#c94741"/>
<path d="M305.1,74.4 L307.8,73.8 L310.5,77.6 L313.7,83.0 L318.0,90.5 L322.3,98.1 L325.5,105.6 L331.0,110.0 L339.9,119.3 L331.0,126.2 L322.3,129.7 L313.7,131.4 L306.8,136.6 L299.9,141.7 L291.3,140.0 L294.8,127.9 L296.5,117.6 L293.0,110.7 L286.1,102.1 L287.9,92.0 L290.5,89.0 L294.3,85.3 L298.1,80.5 L301.8,76.2Z" fill="#b1182b"/>
<path d="M298.6,84.0 L303.0,83.0 L307.0,87.0 L311.0,90.0 L313.7,95.0 L313.7,100.3 L310.3,107.2 L303.4,109.0 L296.5,105.5 L291.3,98.6 L293.0,92.0 L295.5,88.0Z" fill="#7f0823"/>
<path d="M298.1,66.8 L299.2,66.1 L300.4,66.5 L300.6,67.7 L299.2,68.1Z" fill="#5ca3cb"/>
<path d="M260.8,214.6 L259.4,220.7 L254.7,227.9 L248.5,234.0 L242.4,239.1 L236.3,241.2 L237.3,235.4 L244.4,227.9 L250.6,221.7 L256.7,215.6Z" fill="#fac8af"/>
<path d="M264.7,207.8 L255.0,209.2 L244.0,212.0 L235.7,214.8 L232.9,218.9 L244.0,218.9 L257.8,216.1 L263.9,214.2Z" fill="#c94741"/>
<path d="M272.0,219.2 L274.8,223.3 L267.9,230.2 L259.6,238.5 L251.3,246.8 L245.8,248.2 L247.1,242.7 L254.1,234.4 L262.3,226.1 L269.2,220.5Z" fill="#c94741"/>
<path d="M259.0,245.6 L250.7,248.4 L242.4,251.1 L234.2,255.3 L235.5,258.1 L245.2,255.3 L256.3,251.1Z" fill="#c94741"/>
<path d="M267.7,245.6 L269.1,251.1 L262.2,259.4 L253.9,267.7 L247.0,274.6 L242.9,273.2 L248.4,265.0 L256.7,255.3 L263.6,248.4Z" fill="#c94741"/>
<path d="M290.3,234.4 L294.4,238.6 L295.8,246.9 L294.4,257.9 L290.3,262.1 L287.5,257.9 L288.9,249.6 L288.0,241.3Z" fill="#c94741"/>
<path d="M309.9,236.0 L319.6,234.6 L323.7,241.6 L320.9,252.6 L315.4,260.9 L309.9,262.3 L307.1,252.6 L305.7,242.9Z" fill="#c94741"/>
<path d="M344.6,245.7 L355.7,244.3 L358.4,252.6 L354.3,262.3 L347.4,266.4 L341.9,263.7 L340.5,255.4Z" fill="#c94741"/>
<path d="M265.7,209.5 L263.5,217.2 L255.8,226.4 L246.6,235.6 L237.4,243.3 L231.3,244.9 L234.3,238.7 L243.6,229.5 L252.8,220.3 L262.0,211.1Z" fill="#fac8af"/>
<path d="M259.7,247.4 L255.1,255.1 L247.5,262.7 L241.3,267.3 L242.9,261.2 L250.5,253.5 L257.6,247.4Z" fill="#fac8af"/>
<path d="M286.3,232.0 L289.3,236.6 L286.3,248.9 L280.1,261.2 L274.0,267.3 L270.9,264.3 L275.5,252.0 L281.7,239.7Z" fill="#fac8af"/>
<path d="M298.1,223.6 L305.7,234.3 L307.3,245.1 L304.2,257.3 L299.6,263.5 L295.0,260.4 L295.0,248.1 L294.4,232.8Z" fill="#fac8af"/>
<path d="M336.4,239.9 L344.0,244.5 L342.5,256.8 L336.4,264.4 L330.2,261.4 L331.8,250.6Z" fill="#fac8af"/>
<path d="M262.9,212.6 L261.1,219.0 L254.7,226.6 L247.1,234.3 L239.4,240.7 L234.3,242.0 L236.8,236.9 L244.5,229.2 L252.2,221.5 L259.9,213.8Z" fill="#fbe4d6"/>
<path d="M258.2,248.9 L254.4,255.3 L248.0,261.7 L242.9,265.5 L244.2,260.4 L250.6,254.0 L256.4,248.9Z" fill="#fbe4d6"/>
<path d="M285.3,235.1 L287.9,238.9 L285.3,249.1 L280.2,259.4 L275.1,264.5 L272.5,261.9 L276.4,251.7 L281.5,241.5Z" fill="#fbe4d6"/>
<path d="M298.4,227.3 L304.8,236.2 L306.0,245.2 L303.5,255.4 L299.7,260.5 L295.8,258.0 L295.8,247.7 L295.3,234.9Z" fill="#fbe4d6"/>
<path d="M336.5,242.1 L342.9,245.9 L341.6,256.1 L336.5,262.5 L331.3,260.0 L332.6,251.0Z" fill="#fbe4d6"/>
<path d="M260.2,215.6 L258.8,220.7 L253.7,226.8 L247.5,233.0 L241.4,238.1 L237.3,239.1 L239.3,235.0 L245.5,228.9 L251.6,222.7 L257.7,216.6Z" fill="#f7f6f6"/>
<path d="M256.7,250.4 L253.7,255.5 L248.5,260.6 L244.4,263.7 L245.5,259.6 L250.6,254.5 L255.3,250.4Z" fill="#f7f6f6"/>
<path d="M284.4,238.1 L286.4,241.2 L284.4,249.4 L280.3,257.5 L276.2,261.6 L274.1,259.6 L277.2,251.4 L281.3,243.2Z" fill="#f7f6f6"/>
<path d="M298.7,230.9 L303.8,238.1 L304.8,245.3 L302.8,253.4 L299.7,257.5 L296.6,255.5 L296.6,247.3 L296.2,237.1Z" fill="#f7f6f6"/>
<path d="M336.5,244.2 L341.7,247.3 L340.6,255.5 L336.5,260.6 L332.4,258.6 L333.5,251.4Z" fill="#f7f6f6"/>
<path d="M259.8,217.6 L257.7,222.7 L252.6,227.9 L248.5,230.9 L247.5,228.9 L252.6,223.8 L257.7,218.7Z" fill="#bbdaea"/>
<path d="M284.8,239.1 L285.8,242.2 L283.3,248.3 L280.3,253.4 L278.6,252.4 L281.3,245.3 L283.3,240.1Z" fill="#bbdaea"/>
<path d="M299.1,233.0 L302.8,239.1 L303.2,245.3 L301.1,251.4 L298.7,252.4 L298.1,245.3 L297.7,237.1Z" fill="#bbdaea"/>
<path d="M337.2,246.3 L340.2,249.4 L339.2,254.5 L335.9,257.5 L334.5,253.4Z" fill="#bbdaea"/>
<path d="M260.8,209.4 L253.7,210.5 L245.5,212.5 L239.3,214.6 L237.3,217.6 L245.5,217.6 L255.7,215.6 L260.2,214.2Z" fill="#b1182b"/>
<path d="M269.0,222.7 L271.0,225.8 L265.9,230.9 L259.8,237.1 L253.7,243.2 L249.6,244.2 L250.6,240.1 L255.7,234.0 L261.8,227.9 L267.0,223.8Z" fill="#b1182b"/>
<path d="M255.7,247.3 L249.6,249.4 L243.4,251.4 L237.3,254.5 L238.3,256.5 L245.5,254.5 L253.7,251.4Z" fill="#b1182b"/>
<path d="M264.9,249.4 L265.9,253.4 L260.8,259.6 L254.7,265.7 L249.6,270.8 L246.5,269.8 L250.6,263.7 L256.7,256.5 L261.8,251.4Z" fill="#b1182b"/>
<path d="M290.5,238.1 L293.6,241.2 L294.6,247.3 L293.6,255.5 L290.5,258.6 L288.4,255.5 L289.5,249.4 L288.9,243.2Z" fill="#b1182b"/>
<path d="M311.0,239.1 L318.1,238.1 L321.2,243.2 L319.1,251.4 L315.1,257.5 L311.0,258.6 L308.9,251.4 L307.9,244.2Z" fill="#b1182b"/>
<path d="M345.8,248.3 L353.9,247.3 L356.0,253.4 L352.9,260.6 L347.8,263.7 L343.7,261.6 L342.7,255.5Z" fill="#b1182b"/>
<path d="M268.0,224.8 L263.9,229.9 L258.8,235.0 L254.7,239.1 L255.7,236.0 L260.8,230.9 L265.9,225.8Z" fill="#7f0823"/>
<path d="M263.9,251.4 L259.8,257.5 L254.7,263.7 L251.6,266.7 L253.7,262.7 L258.8,256.5 L262.9,251.4Z" fill="#7f0823"/>
<path d="M291.5,240.1 L293.2,245.3 L292.5,251.4 L290.9,254.5 L290.1,250.4 L290.5,244.2Z" fill="#7f0823"/>
<path d="M312.0,241.2 L317.1,240.8 L318.1,245.3 L316.1,251.4 L313.0,254.5 L311.0,249.4Z" fill="#7f0823"/>
<path d="M347.8,250.4 L352.9,250.4 L353.5,255.5 L350.3,260.6 L346.8,259.6 L345.8,254.5Z" fill="#7f0823"/>
<path d="M393.3,214.4 L399.6,213.5 L400.5,221.6 L397.8,228.0 L392.4,228.9 L391.5,221.6Z" fill="#90c4dd"/>
<path d="M405.1,201.7 L410.5,198.1 L415.9,199.9 L414.1,205.3 L406.9,207.1Z" fill="#bbdaea"/>
<use href="#land"/>
<use href="#grid"/>
</g></g>
<rect x="101.3" y="44.4" width="514.0" height="364.5" fill="none" stroke="#000" stroke-width="1.1"/>
<g clip-path="url(#cB)">
<rect x="780.4" y="41.6" width="518.0000000000001" height="369.59999999999997" fill="#f5aa89"/>
<g transform="translate(681.1,0.5)">
<path d="M579.9,40.5 L573.9,54.4 L564.0,66.3 L556.1,78.2 L544.2,86.1 L522.7,94.2 L508.4,99.0 L491.9,102.5 L477.6,104.9 L463.4,107.3 L457.5,109.6 L458.7,115.6 L465.8,117.9 L468.2,125.1 L467.0,136.9 L470.5,144.0 L465.8,151.1 L456.3,158.2 L444.5,163.0 L432.6,165.3 L427.9,167.7 L432.6,172.5 L442.1,176.0 L446.8,179.6 L444.5,183.1 L432.6,181.9 L420.8,180.8 L408.9,179.6 L401.5,185.2 L389.6,197.1 L381.2,200.5 L367.0,208.5 L352.8,218.0 L333.8,222.7 L318.9,218.1 L309.5,220.1 L299.2,223.2 L293.1,227.3 L284.9,228.3 L276.7,225.2 L274.7,219.1 L276.7,210.9 L274.7,204.7 L266.5,202.7 L258.3,201.7 L250.1,204.7 L249.1,210.9 L244.0,215.0 L235.8,215.0 L230.6,216.0 L231.7,221.1 L237.8,223.2 L241.9,225.2 L239.9,233.4 L235.8,237.5 L234.7,241.6 L237.8,245.7 L241.9,249.8 L248.1,251.8 L254.2,249.8 L260.3,248.2 L266.5,246.7 L272.6,246.1 L274.3,249.8 L270.6,255.9 L265.5,264.1 L261.4,272.3 L257.3,280.5 L254.2,289.5 L250.3,290.0 L241.2,308.1 L236.7,321.7 L227.7,330.8 L209.5,335.3 L191.4,335.3 L168.8,335.3 L146.2,339.8 L123.5,342.1 L105.4,344.4 L96.9,344.5 L96.9,351.5 L105.4,351.2 L128.1,357.9 L146.2,367.0 L164.3,380.6 L177.9,394.2 L186.9,413.5 L618.9,415.5 L618.9,37.5 L579.9,37.5Z" fill="#fbe5d8"/>
<path d="M255.2,251.8 L260.3,252.9 L258.3,258.0 L254.2,264.1 L249.1,270.3 L245.0,274.4 L239.9,273.4 L237.8,268.2 L242.9,263.1 L248.1,258.0 L251.1,253.9Z" fill="#fbe5d8"/>
<path d="M603.6,37.5 L603.6,40.5 L595.7,50.4 L583.8,62.3 L573.9,74.2 L566.0,84.1 L555.9,88.3 L551.1,94.2 L541.6,101.4 L527.4,108.5 L513.2,115.6 L499.0,122.7 L489.5,129.8 L485.9,136.9 L489.5,144.0 L494.2,151.1 L503.7,155.9 L513.2,155.9 L517.9,148.8 L520.3,146.4 L520.3,153.5 L517.9,165.3 L513.2,174.8 L503.7,184.3 L489.5,191.4 L475.3,199.5 L448.9,211.5 L419.2,231.5 L400.2,239.3 L381.2,241.7 L362.2,244.1 L343.3,246.4 L329.0,255.9 L333.8,270.1 L348.0,279.6 L362.2,289.1 L348.0,293.9 L324.3,298.6 L310.1,305.7 L300.6,312.8 L291.1,327.1 L286.3,346.0 L281.6,369.8 L276.9,388.7 L272.1,413.5 L618.9,415.5 L618.9,37.5Z" fill="#e0ecf3"/>
<path d="M437.9,217.5 L458.9,214.5 L475.9,217.5 L478.9,225.5 L458.9,229.5 L438.9,227.5Z" fill="#fbe5d8"/>
<path d="M301.3,245.7 L307.5,241.6 L318.9,239.5 L320.9,252.5 L309.5,253.9 L302.3,251.8Z" fill="#e0ecf3"/>
<path d="M253.2,215.0 L258.3,217.0 L260.3,225.2 L257.3,233.4 L253.2,234.4 L252.2,227.3Z" fill="#e0ecf3"/>
<path d="M389.6,197.1 L380.0,198.4 L373.5,206.0 L369.2,212.4 L367.1,218.9 L362.7,225.3 L358.4,229.7 L352.0,231.8 L341.2,234.0 L330.4,235.0 L321.8,236.1 L317.5,231.8 L318.9,225.5 L308.9,223.5 L303.9,220.5 L318.9,215.5 L352.8,214.5 L367.0,206.5 L381.2,198.5Z" fill="#f5aa89"/>
<path d="M358.4,229.7 L355.2,249.0 L356.3,255.5 L360.6,260.9 L367.1,262.0 L373.5,257.7 L377.8,253.3 L382.1,246.9 L390.7,242.6 L395.1,238.3 L397.2,234.0 L399.4,227.5 L401.5,221.0 L408.0,216.7 L416.6,212.4 L429.5,208.1 L448.9,203.8 L475.3,199.5 L418.9,194.5 L381.2,198.5 L368.9,209.5Z" fill="#fbe5d8"/>
<path d="M447.9,227.5 L458.9,223.5 L473.9,225.5 L470.9,231.5 L453.9,233.5Z" fill="#fbe5d8"/>
<path d="M565.3,91.9 L555.9,103.7 L548.7,110.8 L539.3,115.6 L527.4,117.9 L522.7,122.7 L521.5,132.2 L525.0,136.9 L532.1,141.6 L539.3,146.4 L546.4,144.0 L553.9,140.5 L578.9,119.5 L578.9,89.5Z" fill="#9bc9e0"/>
<path d="M438.1,239.3 L428.7,251.2 L419.2,265.4 L404.9,279.6 L390.7,289.1 L376.5,298.6 L357.5,303.4 L333.8,308.1 L314.8,310.5 L307.7,322.3 L300.9,344.5 L298.9,364.5 L299.4,388.5 L297.4,413.5 L618.9,415.5 L618.9,234.5 L443.9,234.5Z" fill="#9bc9e0"/>
<path d="M348.9,246.5 L351.9,249.5 L345.9,257.5 L340.9,260.5 L339.9,256.5Z" fill="#9bc9e0"/>
<path d="M548.7,115.6 L541.6,120.3 L534.5,125.1 L533.3,132.2 L536.9,138.1 L544.0,139.3 L553.9,135.5 L558.9,117.5Z" fill="#3f8ec0"/>
<path d="M386.9,299.5 L381.4,308.0 L378.2,314.4 L355.6,319.3 L332.9,324.1 L323.2,333.8 L316.8,356.5 L310.3,379.1 L302.2,395.2 L303.9,404.9 L323.2,401.7 L339.4,388.8 L355.6,371.0 L365.3,356.5 L371.7,340.3 L378.2,327.4 L384.9,311.5Z" fill="#3f8ec0"/>
<path d="M333.8,350.8 L343.3,338.9 L355.1,337.5 L359.9,346.0 L352.8,357.9 L340.9,369.8 L333.8,367.4Z" fill="#175290"/>
<path d="M96.9,38.5 L130.6,38.5 L128.6,48.4 L120.7,54.4 L108.8,54.4 L96.9,52.4Z" fill="#d05548"/>
<path d="M160.4,38.5 L253.5,38.5 L251.5,50.4 L235.7,54.4 L219.8,60.3 L200.0,60.3 L180.2,56.4 L168.3,50.4 L160.4,46.5Z" fill="#d05548"/>
<path d="M255.5,48.4 L263.4,46.5 L266.6,50.4 L259.4,53.6Z" fill="#d05548"/>
<path d="M299.1,74.2 L307.0,72.2 L314.9,82.1 L322.9,94.0 L338.7,102.0 L362.5,102.0 L362.5,117.8 L342.7,121.8 L326.8,129.7 L311.0,133.7 L299.1,129.7 L295.1,121.8 L291.1,109.9 L289.2,98.0 L295.1,90.1 L299.1,82.1Z" fill="#d05548"/>
<path d="M332.8,38.5 L362.5,38.5 L362.5,66.3 L346.6,64.3 L334.7,60.3 L330.8,50.4Z" fill="#d05548"/>
<path d="M355.9,117.8 L365.8,117.8 L373.8,113.8 L381.7,107.9 L393.6,105.9 L405.5,102.0 L417.4,94.0 L425.3,86.1 L437.2,80.2 L453.0,78.2 L468.9,78.2 L484.7,80.2 L496.6,82.1 L508.5,78.2 L520.4,70.2 L532.3,64.3 L538.2,54.4 L540.2,38.5 L355.9,38.5Z" fill="#d05548"/>
<path d="M182.4,249.3 L191.4,244.8 L209.5,242.5 L213.2,249.3 L209.5,258.4 L205.9,263.8 L198.2,260.6 L189.2,256.1 L182.4,253.8Z" fill="#d05548"/>
<path d="M172.1,65.0 L179.6,65.0 L189.0,68.7 L198.4,70.6 L205.9,72.5 L217.1,74.4 L228.4,77.2 L239.6,80.0 L249.0,83.7 L253.7,87.5 L249.0,91.2 L241.5,96.9 L235.9,98.7 L230.2,102.5 L224.6,100.6 L219.0,96.9 L213.4,93.1 L207.7,85.6 L202.1,78.1 L194.6,74.4 L187.1,72.5 L179.6,68.7 L173.1,66.9Z" fill="#d05548"/>
<path d="M99.0,40.6 L130.9,40.6 L130.9,44.4 L129.0,50.0 L123.4,53.7 L119.6,56.6 L112.1,55.6 L106.5,52.8 L99.0,51.9Z" fill="#d05548"/>
<path d="M355.9,70.2 L365.8,74.2 L371.8,82.1 L369.8,94.0 L355.9,98.0Z" fill="#f5aa89"/>
<path d="M284.0,72.2 L295.1,75.0 L301.1,78.2 L297.1,84.1 L287.2,85.3 L282.4,80.2Z" fill="#fbe5d8"/>
<use href="#land"/>
<use href="#grid"/>
</g></g>
<rect x="782.4" y="43.6" width="514.0" height="365.6" fill="none" stroke="#000" stroke-width="1.1"/>
<g font-family='"Liberation Sans", sans-serif' fill="#000" style="will-change:transform">
<rect x="637.1" y="387.59" width="17.8" height="22.81" fill="#0e4179"/>
<rect x="637.1" y="365.09" width="17.8" height="22.81" fill="#2065ab"/>
<rect x="637.1" y="342.58" width="17.8" height="22.81" fill="#3783bb"/>
<rect x="637.1" y="320.07" width="17.8" height="22.81" fill="#5ca3cb"/>
<rect x="637.1" y="297.57" width="17.8" height="22.81" fill="#90c4dd"/>
<rect x="637.1" y="275.06" width="17.8" height="22.81" fill="#bbdaea"/>
<rect x="637.1" y="252.55" width="17.8" height="22.81" fill="#ddebf2"/>
<rect x="637.1" y="230.05" width="17.8" height="22.81" fill="#f7f6f6"/>
<rect x="637.1" y="207.54" width="17.8" height="22.81" fill="#fbe4d6"/>
<rect x="637.1" y="185.03" width="17.8" height="22.81" fill="#fac8af"/>
<rect x="637.1" y="162.53" width="17.8" height="22.81" fill="#f3a481"/>
<rect x="637.1" y="140.02" width="17.8" height="22.81" fill="#df765e"/>
<rect x="637.1" y="117.51" width="17.8" height="22.81" fill="#c94741"/>
<rect x="637.1" y="95.01" width="17.8" height="22.81" fill="#b1182b"/>
<rect x="637.1" y="72.50" width="17.8" height="22.81" fill="#7f0823"/>
<path d="M637.1,72.5 L646.0,55.6 L654.9,72.5Z" fill="#67001f"/>
<path d="M637.1,72.5 L646.0,55.6 L654.9,72.5 L654.9,410.1 L637.1,410.1Z" fill="none" stroke="#000" stroke-width="1.1"/>
<line x1="654.9" y1="410.10" x2="659.8" y2="410.10" stroke="#000" stroke-width="1.1"/>
<text x="664.5" y="417.10" font-size="19.3" textLength="11.1" lengthAdjust="spacingAndGlyphs">0</text>
<line x1="654.9" y1="387.59" x2="659.8" y2="387.59" stroke="#000" stroke-width="1.1"/>
<text x="664.5" y="394.59" font-size="19.3" textLength="22.1" lengthAdjust="spacingAndGlyphs">10</text>
<line x1="654.9" y1="365.09" x2="659.8" y2="365.09" stroke="#000" stroke-width="1.1"/>
<text x="664.5" y="372.09" font-size="19.3" textLength="22.1" lengthAdjust="spacingAndGlyphs">20</text>
<line x1="654.9" y1="342.58" x2="659.8" y2="342.58" stroke="#000" stroke-width="1.1"/>
<text x="664.5" y="349.58" font-size="19.3" textLength="22.1" lengthAdjust="spacingAndGlyphs">30</text>
<line x1="654.9" y1="320.07" x2="659.8" y2="320.07" stroke="#000" stroke-width="1.1"/>
<text x="664.5" y="327.07" font-size="19.3" textLength="22.1" lengthAdjust="spacingAndGlyphs">40</text>
<line x1="654.9" y1="297.57" x2="659.8" y2="297.57" stroke="#000" stroke-width="1.1"/>
<text x="664.5" y="304.57" font-size="19.3" textLength="22.1" lengthAdjust="spacingAndGlyphs">50</text>
<line x1="654.9" y1="275.06" x2="659.8" y2="275.06" stroke="#000" stroke-width="1.1"/>
<text x="664.5" y="282.06" font-size="19.3" textLength="22.1" lengthAdjust="spacingAndGlyphs">60</text>
<line x1="654.9" y1="252.55" x2="659.8" y2="252.55" stroke="#000" stroke-width="1.1"/>
<text x="664.5" y="259.55" font-size="19.3" textLength="22.1" lengthAdjust="spacingAndGlyphs">70</text>
<line x1="654.9" y1="230.05" x2="659.8" y2="230.05" stroke="#000" stroke-width="1.1"/>
<text x="664.5" y="237.05" font-size="19.3" textLength="22.1" lengthAdjust="spacingAndGlyphs">80</text>
<line x1="654.9" y1="207.54" x2="659.8" y2="207.54" stroke="#000" stroke-width="1.1"/>
<text x="664.5" y="214.54" font-size="19.3" textLength="22.1" lengthAdjust="spacingAndGlyphs">90</text>
<line x1="654.9" y1="185.03" x2="659.8" y2="185.03" stroke="#000" stroke-width="1.1"/>
<text x="664.5" y="192.03" font-size="19.3" textLength="33.2" lengthAdjust="spacingAndGlyphs">100</text>
<line x1="654.9" y1="162.53" x2="659.8" y2="162.53" stroke="#000" stroke-width="1.1"/>
<text x="664.5" y="169.53" font-size="19.3" textLength="33.2" lengthAdjust="spacingAndGlyphs">110</text>
<line x1="654.9" y1="140.02" x2="659.8" y2="140.02" stroke="#000" stroke-width="1.1"/>
<text x="664.5" y="147.02" font-size="19.3" textLength="33.2" lengthAdjust="spacingAndGlyphs">120</text>
<line x1="654.9" y1="117.51" x2="659.8" y2="117.51" stroke="#000" stroke-width="1.1"/>
<text x="664.5" y="124.51" font-size="19.3" textLength="33.2" lengthAdjust="spacingAndGlyphs">130</text>
<line x1="654.9" y1="95.01" x2="659.8" y2="95.01" stroke="#000" stroke-width="1.1"/>
<text x="664.5" y="102.01" font-size="19.3" textLength="33.2" lengthAdjust="spacingAndGlyphs">140</text>
<line x1="654.9" y1="72.50" x2="659.8" y2="72.50" stroke="#000" stroke-width="1.1"/>
<text x="664.5" y="79.50" font-size="19.3" textLength="33.2" lengthAdjust="spacingAndGlyphs">150</text>
<rect x="1318.2" y="367.99" width="17.9" height="42.51" fill="#175290"/>
<rect x="1318.2" y="325.77" width="17.9" height="42.51" fill="#3f8ec0"/>
<rect x="1318.2" y="283.56" width="17.9" height="42.51" fill="#9bc9e0"/>
<rect x="1318.2" y="241.35" width="17.9" height="42.51" fill="#e0ecf3"/>
<rect x="1318.2" y="199.14" width="17.9" height="42.51" fill="#fbe5d8"/>
<rect x="1318.2" y="156.93" width="17.9" height="42.51" fill="#f5aa89"/>
<rect x="1318.2" y="114.71" width="17.9" height="42.51" fill="#d05548"/>
<rect x="1318.2" y="72.50" width="17.9" height="42.51" fill="#930e26"/>
<path d="M1318.2,72.5 L1327.15,55.6 L1336.1,72.5Z" fill="#67001f"/>
<path d="M1318.2,72.5 L1327.15,55.6 L1336.1,72.5 L1336.1,410.2 L1318.2,410.2Z" fill="none" stroke="#000" stroke-width="1.1"/>
<line x1="1336.1" y1="410.20" x2="1341.0" y2="410.20" stroke="#000" stroke-width="1.1"/>
<text x="1345.1" y="417.20" font-size="19.3" textLength="46.2" lengthAdjust="spacingAndGlyphs">-40.0</text>
<line x1="1336.1" y1="367.99" x2="1341.0" y2="367.99" stroke="#000" stroke-width="1.1"/>
<text x="1345.1" y="374.99" font-size="19.3" textLength="46.2" lengthAdjust="spacingAndGlyphs">-30.0</text>
<line x1="1336.1" y1="325.77" x2="1341.0" y2="325.77" stroke="#000" stroke-width="1.1"/>
<text x="1345.1" y="332.77" font-size="19.3" textLength="46.2" lengthAdjust="spacingAndGlyphs">-20.0</text>
<line x1="1336.1" y1="283.56" x2="1341.0" y2="283.56" stroke="#000" stroke-width="1.1"/>
<text x="1345.1" y="290.56" font-size="19.3" textLength="46.2" lengthAdjust="spacingAndGlyphs">-10.0</text>
<line x1="1336.1" y1="241.35" x2="1341.0" y2="241.35" stroke="#000" stroke-width="1.1"/>
<text x="1345.1" y="248.35" font-size="19.3" textLength="27.8" lengthAdjust="spacingAndGlyphs">0.0</text>
<line x1="1336.1" y1="199.14" x2="1341.0" y2="199.14" stroke="#000" stroke-width="1.1"/>
<text x="1345.1" y="206.14" font-size="19.3" textLength="38.9" lengthAdjust="spacingAndGlyphs">10.0</text>
<line x1="1336.1" y1="156.93" x2="1341.0" y2="156.93" stroke="#000" stroke-width="1.1"/>
<text x="1345.1" y="163.93" font-size="19.3" textLength="38.9" lengthAdjust="spacingAndGlyphs">20.0</text>
<line x1="1336.1" y1="114.71" x2="1341.0" y2="114.71" stroke="#000" stroke-width="1.1"/>
<text x="1345.1" y="121.71" font-size="19.3" textLength="38.9" lengthAdjust="spacingAndGlyphs">30.0</text>
<line x1="1336.1" y1="72.50" x2="1341.0" y2="72.50" stroke="#000" stroke-width="1.1"/>
<text x="1345.1" y="79.50" font-size="19.3" textLength="38.9" lengthAdjust="spacingAndGlyphs">40.0</text>
<text x="19.6" y="24.3" font-size="29.2" font-weight="bold">A</text>
<text x="751.0" y="24.3" font-size="29.2" font-weight="bold">B</text>
<text x="357.9" y="36.7" font-size="28.6" text-anchor="middle" textLength="36.5" lengthAdjust="spacingAndGlyphs">LH</text>
<text x="1038.6" y="36.2" font-size="28.6" text-anchor="middle" textLength="38.5" lengthAdjust="spacingAndGlyphs">SH</text>
<text x="93.9" y="103.35" font-size="20.6" text-anchor="end" textLength="50.0" lengthAdjust="spacingAndGlyphs">32°N</text>
<text x="93.9" y="174.2" font-size="20.6" text-anchor="end" textLength="50.0" lengthAdjust="spacingAndGlyphs">30°N</text>
<text x="93.9" y="245.1" font-size="20.6" text-anchor="end" textLength="50.0" lengthAdjust="spacingAndGlyphs">28°N</text>
<text x="93.9" y="315.95" font-size="20.6" text-anchor="end" textLength="50.0" lengthAdjust="spacingAndGlyphs">26°N</text>
<text x="93.9" y="386.8" font-size="20.6" text-anchor="end" textLength="50.0" lengthAdjust="spacingAndGlyphs">24°N</text>
<text x="119.30000000000001" y="429.9" font-size="20.6" text-anchor="middle" textLength="54.8" lengthAdjust="spacingAndGlyphs">22°W</text>
<text x="800.4" y="430.3" font-size="20.6" text-anchor="middle" textLength="54.8" lengthAdjust="spacingAndGlyphs">22°W</text>
<text x="261.09999999999997" y="429.9" font-size="20.6" text-anchor="middle" textLength="54.8" lengthAdjust="spacingAndGlyphs">18°W</text>
<text x="942.1999999999999" y="430.3" font-size="20.6" text-anchor="middle" textLength="54.8" lengthAdjust="spacingAndGlyphs">18°W</text>
<text x="402.9" y="429.9" font-size="20.6" text-anchor="middle" textLength="54.8" lengthAdjust="spacingAndGlyphs">14°W</text>
<text x="1084.0" y="430.3" font-size="20.6" text-anchor="middle" textLength="54.8" lengthAdjust="spacingAndGlyphs">14°W</text>
<text x="544.6999999999999" y="429.9" font-size="20.6" text-anchor="middle" textLength="54.8" lengthAdjust="spacingAndGlyphs">10°W</text>
<text x="1225.8000000000002" y="430.3" font-size="20.6" text-anchor="middle" textLength="54.8" lengthAdjust="spacingAndGlyphs">10°W</text>
<text x="357.85" y="458.4" font-size="24.3" text-anchor="middle" textLength="160.0" lengthAdjust="spacingAndGlyphs">Longitude (W)</text>
<text x="1038.95" y="458.7" font-size="24.3" text-anchor="middle" textLength="160.0" lengthAdjust="spacingAndGlyphs">Longitude (W)</text>
<text transform="translate(18.6,226.45) rotate(-90)" x="0" y="0" font-size="24.3" text-anchor="middle" textLength="133.5" lengthAdjust="spacingAndGlyphs">Latitude (N)</text>
<text transform="translate(720.1,240.4) rotate(-90)" x="0" y="0" font-size="20.6" text-anchor="middle" textLength="80.0" lengthAdjust="spacingAndGlyphs">(W.m<tspan font-size="14.4" dy="-7.3">−2</tspan><tspan dy="7.3">)</tspan></text>
<text transform="translate(1414.8,242.5) rotate(-90)" x="0" y="0" font-size="20.6" text-anchor="middle" textLength="81.0" lengthAdjust="spacingAndGlyphs">(W.m<tspan font-size="14.4" dy="-7.3">−2</tspan><tspan dy="7.3">)</tspan></text>
<rect x="773.0" y="98.2" width="0.9" height="1.1" fill="#888"/><rect x="774.9" y="98.2" width="0.9" height="1.1" fill="#888"/>
<rect x="773.0" y="169.1" width="0.9" height="1.1" fill="#888"/><rect x="774.9" y="169.1" width="0.9" height="1.1" fill="#888"/>
<rect x="773.0" y="240.0" width="0.9" height="1.1" fill="#888"/><rect x="774.9" y="240.0" width="0.9" height="1.1" fill="#888"/>
<rect x="773.0" y="310.8" width="0.9" height="1.1" fill="#888"/><rect x="774.9" y="310.8" width="0.9" height="1.1" fill="#888"/>
<rect x="773.0" y="381.7" width="0.9" height="1.1" fill="#888"/><rect x="774.9" y="381.7" width="0.9" height="1.1" fill="#888"/>
</g>
</svg></body></html>
